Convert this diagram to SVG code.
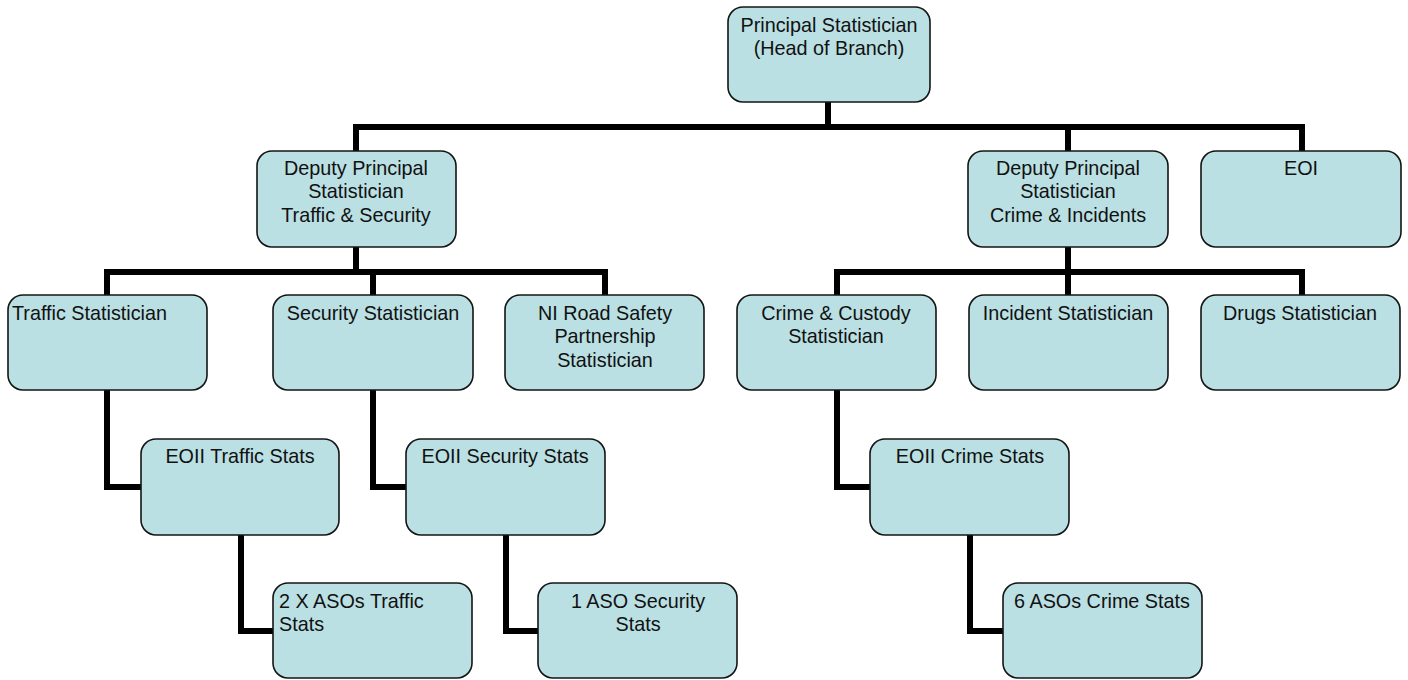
<svg xmlns="http://www.w3.org/2000/svg" width="1408" height="680" viewBox="0 0 1408 680">
<style>
.box{fill:#bae0e3;stroke:#141414;stroke-width:1.6}
.lbl{font-family:"Liberation Sans",Arial,sans-serif;font-size:19.8px;fill:#111}
.c{text-anchor:middle}
.conn{fill:none;stroke:#000;stroke-width:6;stroke-linejoin:miter;stroke-linecap:butt}
</style>
<rect width="1408" height="680" fill="#fff"/>
<g id="connectors">
<path class="conn" d="M828 102 V127"/>
<path class="conn" d="M356 151 V127 H1302 V151"/>
<path class="conn" d="M1068 127 V151"/>
<path class="conn" d="M107 295 V272 H605 V295"/>
<path class="conn" d="M356 247 V272"/>
<path class="conn" d="M373 272 V295"/>
<path class="conn" d="M837 295 V272 H1302 V295"/>
<path class="conn" d="M1068 247 V295"/>
<path class="conn" d="M107 390 V487 H141"/>
<path class="conn" d="M373 390 V487 H406"/>
<path class="conn" d="M837 390 V487 H870"/>
<path class="conn" d="M241 535 V631 H273"/>
<path class="conn" d="M506 535 V631 H538"/>
<path class="conn" d="M970 535 V631 H1003"/>
</g>
<g id="principal"><rect class="box" x="728" y="7" width="202" height="95" rx="15"/>
<text class="lbl c" x="829" y="32">Principal Statistician</text><text class="lbl c" x="829" y="55">(Head of Branch)</text></g>
<g id="deputy-ts"><rect class="box" x="257" y="151" width="199" height="96" rx="15"/>
<text class="lbl c" x="356" y="175">Deputy Principal</text><text class="lbl c" x="356" y="198">Statistician</text><text class="lbl c" x="356" y="222">Traffic &amp; Security</text></g>
<g id="deputy-ci"><rect class="box" x="968" y="151" width="200" height="96" rx="15"/>
<text class="lbl c" x="1068" y="175">Deputy Principal</text><text class="lbl c" x="1068" y="198">Statistician</text><text class="lbl c" x="1068" y="222">Crime &amp; Incidents</text></g>
<g id="eoi"><rect class="box" x="1201" y="151" width="200" height="96" rx="15"/>
<text class="lbl c" x="1301" y="175">EOI</text></g>
<g id="traffic"><rect class="box" x="8" y="295" width="199" height="95" rx="15"/>
<text class="lbl" x="12" y="320">Traffic Statistician</text></g>
<g id="security"><rect class="box" x="273" y="295" width="200" height="95" rx="15"/>
<text class="lbl c" x="373" y="320">Security Statistician</text></g>
<g id="ni-road"><rect class="box" x="505" y="295" width="199" height="95" rx="15"/>
<text class="lbl c" x="605" y="320">NI Road Safety</text><text class="lbl c" x="605" y="343">Partnership</text><text class="lbl c" x="605" y="367">Statistician</text></g>
<g id="crime-custody"><rect class="box" x="737" y="295" width="199" height="95" rx="15"/>
<text class="lbl c" x="836" y="320">Crime &amp; Custody</text><text class="lbl c" x="836" y="343">Statistician</text></g>
<g id="incident"><rect class="box" x="969" y="295" width="199" height="95" rx="15"/>
<text class="lbl c" x="1068" y="320">Incident Statistician</text></g>
<g id="drugs"><rect class="box" x="1201" y="295" width="199" height="95" rx="15"/>
<text class="lbl c" x="1300" y="320">Drugs Statistician</text></g>
<g id="eoii-traffic"><rect class="box" x="141" y="439" width="198" height="96" rx="15"/>
<text class="lbl c" x="240" y="463">EOII Traffic Stats</text></g>
<g id="eoii-security"><rect class="box" x="406" y="439" width="199" height="96" rx="15"/>
<text class="lbl c" x="505" y="463">EOII Security Stats</text></g>
<g id="eoii-crime"><rect class="box" x="870" y="439" width="199" height="96" rx="15"/>
<text class="lbl c" x="970" y="463">EOII Crime Stats</text></g>
<g id="aso-traffic"><rect class="box" x="273" y="583" width="199" height="95" rx="15"/>
<text class="lbl" x="279" y="608">2 X ASOs Traffic</text><text class="lbl" x="279" y="631">Stats</text></g>
<g id="aso-security"><rect class="box" x="538" y="583" width="199" height="95" rx="15"/>
<text class="lbl c" x="638" y="608">1 ASO Security</text><text class="lbl c" x="638" y="631">Stats</text></g>
<g id="aso-crime"><rect class="box" x="1003" y="583" width="199" height="95" rx="15"/>
<text class="lbl c" x="1102" y="608">6 ASOs Crime Stats</text></g>
</svg>
